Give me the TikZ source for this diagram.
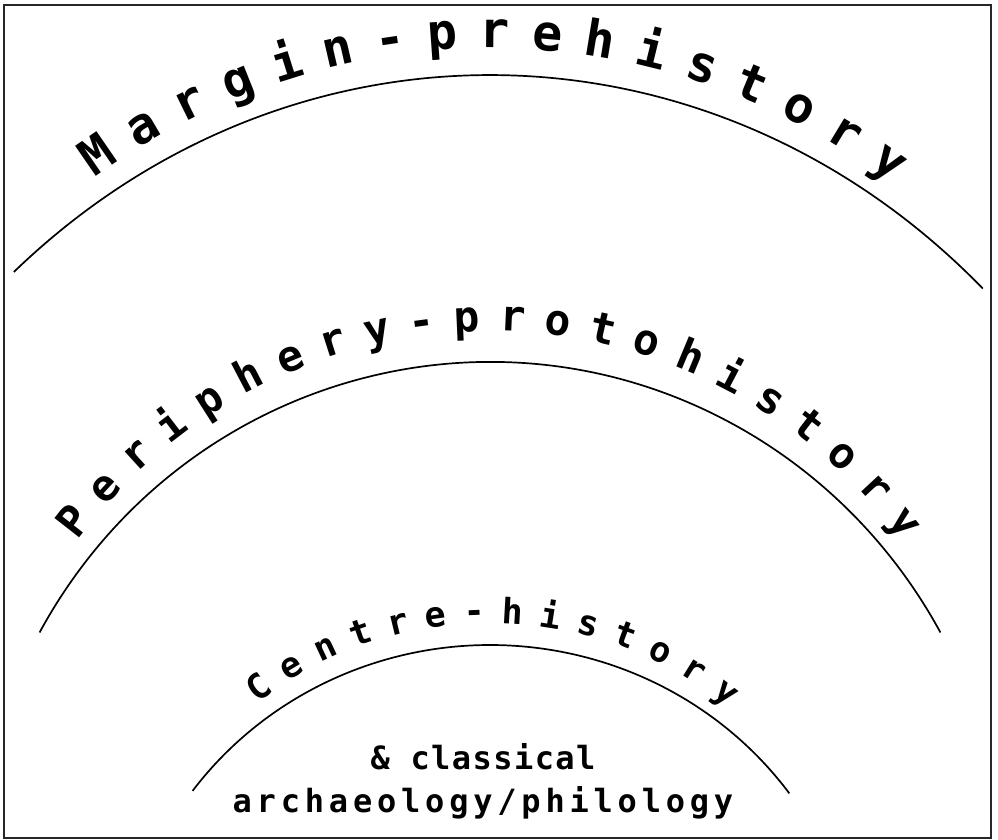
\documentclass[tikz,border=0pt]{standalone}
\usepackage{fontspec}
\newfontfamily\arcfont{DejaVu Sans Mono}
\usetikzlibrary{decorations.text}
\newcommand\fOuter{\arcfont\bfseries\fontsize{50}{54}\selectfont}
\newcommand\fMiddle{\arcfont\bfseries\fontsize{43}{47}\selectfont}
\newcommand\fInner{\arcfont\bfseries\fontsize{35}{39}\selectfont}
\tikzset{
  frame/.style={line width=1.4pt, draw=black!85},
  arcline/.style={line width=1.7pt, draw=black},
  lowtext/.style={anchor=base, inner sep=0pt, font=\arcfont\bfseries\fontsize{32}{36}\selectfont}
}
\begin{document}
\begin{tikzpicture}[x=1pt,y=1pt]
\useasboundingbox (0,0) rectangle (998,840);
\draw[frame] (4,2) rectangle (991,835);

% outer
\coordinate (c1) at (490,-23);
\draw[arcline] (c1) ++(131.4:720 and 788) arc[start angle=131.4, end angle=46.8, x radius=720, y radius=788];
\coordinate (t1) at (490,4);
\path[decorate, decoration={text along path, text={|\fOuter|Margin-prehistory}, text align={fit to path}}]
  (t1) ++(123.3:720 and 788) arc[start angle=123.3, end angle=56, x radius=720, y radius=788];

% middle
\coordinate (c2) at (490,-47);
\draw[arcline] (c2) ++(151:515 and 525) arc[start angle=151, end angle=29, x radius=515, y radius=525];
\coordinate (t2) at (490,-27);
\path[decorate, decoration={text along path, text={|\fMiddle|Periphery-protohistory}, text align={fit to path}}]
  (t2) ++(142.5:520 and 536) arc[start angle=142.5, end angle=37.5, x radius=520, y radius=536];

% inner
\coordinate (c3) at (490,-165);
\draw[arcline] (c3) ++(143.5:370 and 360) arc[start angle=143.5, end angle=36, x radius=370, y radius=360];
\coordinate (t3) at (490,-143);
\path[decorate, decoration={text along path, text={|\fInner|Centre-history}, text align={fit to path}}]
  (t3) ++(129:370 and 360) arc[start angle=129, end angle=50, x radius=370, y radius=360];

\node[lowtext] (l1) at (483,70) {\addfontfeature{LetterSpace=4.5}\& classical};
\node[lowtext] (l2) at (483,27) {\addfontfeature{LetterSpace=15}archaeology/philology};
\end{tikzpicture}
\end{document}
